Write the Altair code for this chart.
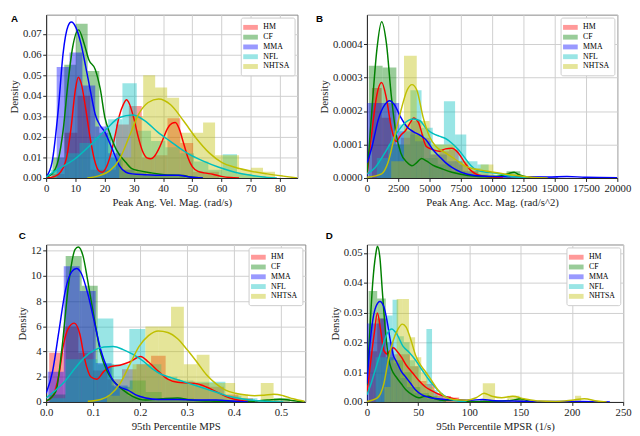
import altair as alt
import pandas as pd

SERIES = ["HM", "CF", "MMA", "NFL", "NHTSA"]
COLORS = ["#ff0000", "#008000", "#0000ff", "#00bfbf", "#bfbf00"]
SERIF = "Liberation Serif"

# ---------------- Panel A : Peak Ang. Vel. Mag. (rad/s) ----------------
# histogram: (first bin edge, bin width) and densities
A_HM_bins = (1.9, 4.4)
A_HM_h = [0.002, 0.022, 0.040, 0.004, 0.004, 0.026, 0.035, 0.010, 0.011, 0.029, 0.017, 0.003, 0.003]
A_CF_bins = (2.2, 4.0)
A_CF_h = [0.010, 0.055, 0.075, 0.052, 0.022, 0.010, 0.004, 0.003, 0.002, 0.001, 0.001, 0.001]
A_MMA_bins = (3.6, 4.4)
A_MMA_h = [0.054, 0.061, 0.045, 0.025, 0.012, 0.004, 0.002, 0.001, 0.001, 0.001]
A_NFL_bins = (1.6, 4.9)
A_NFL_h = [0.004, 0.012, 0.017, 0.020, 0.0286, 0.046, 0.023, 0.018, 0.015, 0.012, 0.008, 0.004, 0.0115, 0.002, 0.001]
A_NHTSA_bins = (25.0, 4.1)
A_NHTSA_h = [0.010, 0.030, 0.050, 0.044, 0.039, 0.022, 0.022, 0.027, 0.011, 0.011, 0.004, 0.005, 0.003]
# KDE curves: (x, density)
A_HM_kde = [(0, 0), (3, 0.0008), (5, 0.003), (7, 0.010), (8.5, 0.024), (10, 0.043), (11, 0.049), (12, 0.046),
            (13.5, 0.034), (15, 0.020), (16.5, 0.009), (18, 0.0035), (19.2, 0.0028), (20.5, 0.005), (22, 0.011),
            (23.5, 0.020), (25, 0.030), (26.5, 0.036), (27.5, 0.038), (28.5, 0.036), (30, 0.029), (31.5, 0.020),
            (33, 0.013), (34.5, 0.0098), (35.8, 0.0094), (37, 0.0105), (38.5, 0.014), (40, 0.019), (41.5, 0.024),
            (43, 0.0265), (44.2, 0.027), (45.5, 0.024), (47, 0.017), (48.5, 0.010), (50, 0.0055), (52, 0.0032),
            (54, 0.0025), (57, 0.0018), (60, 0.0008), (63, 0.0002), (66, 0)]
A_CF_kde = [(0, 0.0005), (2, 0.002), (4.2, 0.009), (5.8, 0.023), (7.5, 0.0466), (9.1, 0.0638), (11.1, 0.072),
            (13, 0.0653), (14.6, 0.0575), (16.8, 0.0528), (18.5, 0.0434), (20.1, 0.0294), (21.8, 0.0216), (24, 0.0138),
            (27.3, 0.0075), (29.5, 0.0044), (31.6, 0.0036), (36, 0.0025), (40.4, 0.0016), (44.8, 0.0014), (47, 0.0012),
            (49.2, 0.0005), (53.6, 0)]
A_MMA_kde = [(0, 0.0005), (2, 0.0075), (4.2, 0.034), (5.8, 0.0606), (7.5, 0.0739), (8.6, 0.0758), (10.2, 0.0731),
             (11.9, 0.0653), (13.5, 0.0544), (15.2, 0.0419), (16.8, 0.0309), (18.5, 0.0255), (20.1, 0.0223),
             (21.8, 0.0169), (23.4, 0.0114), (25.1, 0.0059), (27.3, 0.0028), (29.5, 0.002), (33.8, 0.0016),
             (40.4, 0.0013), (45.4, 0.0013), (49.2, 0.0005), (53.6, 0)]
A_NFL_kde = [(0, 0.0005), (4.2, 0.0044), (9.7, 0.0091), (15.2, 0.0161), (20.7, 0.0239), (25.1, 0.0294), (29.5, 0.0306),
             (33.8, 0.0278), (38.2, 0.0223), (42.6, 0.0177), (48.1, 0.0122), (53.6, 0.0083), (59.1, 0.0052),
             (64.6, 0.0028), (70.1, 0.0013), (75.6, 0.0003), (78.9, 0)]
A_NHTSA_kde = [(14.1, 0), (18.5, 0.0013), (21.8, 0.0036), (25.1, 0.0091), (28.4, 0.02), (31.6, 0.0309), (34.9, 0.0367),
               (38.5, 0.0384), (42.6, 0.0356), (47, 0.0278), (51.4, 0.0192), (55.8, 0.0122), (60.2, 0.0075),
               (64.6, 0.0052), (70.1, 0.0033), (75.6, 0.002), (81.1, 0.0009), (86, 0)]
A_xticks = [0, 10, 20, 30, 40, 50, 60, 70, 80]
A_yticks = [0.00, 0.01, 0.02, 0.03, 0.04, 0.05, 0.06, 0.07]

# ---------------- Panel B : Peak Ang. Acc. Mag. (rad/s^2) ----------------
B_HM_bins = (400, 770)
B_HM_h = [0.000269, 0.00018, 0.00010, 0.00012, 0.00017, 0.00012, 0.00007, 0.00008, 0.000085, 0.00004, 0.00002, 0.00001]
B_CF_bins = (150, 1100)
B_CF_h = [0.000335, 0.00033, 0.00010, 0.00013, 0.00006, 0.00004, 0.00002, 0.00001, 0.000005, 0.0, 0.00002, 0.000005]
B_MMA_bins = (30, 1270)
B_MMA_h = [0.000224, 0.000224, 0.00014, 0.00011, 0.00007, 0.00005, 0.00002, 0.00001, 0.000005, 0, 0, 0.000003]
B_NFL_bins = (790, 893)
B_NFL_h = [0.00006, 0.0001, 0.00016, 0.000262, 0.00015, 0.00010, 0.000229, 0.00013, 0.00005, 0.00004, 0.00001, 0.00001]
B_NHTSA_bins = (1939, 1020)
B_NHTSA_h = [0.00005, 0.000365, 0.00017, 0.0001, 0.0001, 0.00005, 0.00003, 0.00004, 0.00001, 0.00001, 0.000005]
B_HM_kde = [(25, 0.000013), (408, 0.000142), (791, 0.000248), (1173, 0.000285), (1556, 0.000238), (1939, 0.000152),
            (2321, 0.000109), (2704, 0.000128), (3087, 0.000142), (3469, 0.000166), (3724, 0.000179), (4107, 0.000166),
            (4745, 0.000094), (5255, 0.000085), (5765, 0.00008), (6276, 0.000087), (6786, 0.000089), (7296, 0.000075),
            (7806, 0.000046), (8316, 0.000022), (8827, 0.00001), (9847, 0.000003), (10867, 0)]
B_CF_kde = [(25, 0.000017), (408, 0.00021), (791, 0.000383), (1173, 0.000467), (1556, 0.000402), (1939, 0.000248),
            (2321, 0.000133), (2704, 0.000075), (3214, 0.000046), (3597, 0.0000365), (3980, 0.000046), (4362, 0.000058),
            (4745, 0.000051), (5255, 0.0000385), (6020, 0.000027), (6786, 0.000017), (8061, 0.0000077),
            (9847, 0.0000038), (10867, 0.0000077), (11378, 0.0000144), (11760, 0.000017), (12143, 0.0000096),
            (12908, 0.000002), (13929, 0)]
B_MMA_kde = [(25, 0.000046), (408, 0.000094), (918, 0.000176), (1429, 0.000219), (1811, 0.000231), (2194, 0.000219),
             (2704, 0.000181), (3214, 0.000152), (3724, 0.000138), (4235, 0.000128), (4745, 0.000113), (5255, 0.000085),
             (5765, 0.000065), (6276, 0.000046), (6786, 0.000032), (7551, 0.000017), (8571, 0.0000077),
             (9847, 0.0000048), (11888, 0.0000038), (14439, 0.0000029), (15969, 0.0000048), (17500, 0.000002),
             (20000, 0.000001)]
B_NFL_kde = [(25, 0.0000125), (663, 0.0000317), (1429, 0.000075), (2194, 0.000123), (2959, 0.000162), (3724, 0.000176),
             (4235, 0.000171), (4745, 0.000147), (5255, 0.000133), (5765, 0.000125), (6276, 0.000118), (6786, 0.000104),
             (7296, 0.000085), (7806, 0.000061), (8316, 0.0000365), (8827, 0.000022), (9592, 0.000017),
             (10357, 0.0000144), (11122, 0.0000077), (11888, 0.0000029), (12908, 0)]
B_NHTSA_kde = [(25, 0.000002), (1173, 0.0000125), (1684, 0.000046), (2194, 0.000123), (2704, 0.0002), (3214, 0.000263),
               (3597, 0.000279), (3980, 0.000263), (4490, 0.000181), (5000, 0.000123), (5510, 0.000094),
               (6276, 0.000075), (7041, 0.000056), (7806, 0.0000365), (8571, 0.000027), (9337, 0.000022),
               (10102, 0.000017), (10867, 0.0000125), (11888, 0.0000077), (13163, 0.000002), (14439, 0)]
B_xticks = [0, 2500, 5000, 7500, 10000, 12500, 15000, 17500, 20000]
B_yticks = [0.0, 0.0001, 0.0002, 0.0003, 0.0004]

# ---------------- Panel C : 95th Percentile MPS ----------------
C_HM_bins = (0.0065, 0.031)
C_HM_h = [3.9, 6.0, 3.9, 2.5, 1.8, 2.6, 3.0, 3.66, 1.8, 1.6, 1.5, 1.2, 0.6, 0.3]
C_CF_bins = (0.0075, 0.0341)
C_CF_h = [0.6, 11.58, 9.23, 3.0, 1.2, 1.7, 0.8, 0.3, 0.3, 0.2, 0, 0, 0, 0, 0.3]
C_MMA_bins = (0.0035, 0.034)
C_MMA_h = [2.4, 10.77, 8.8, 3.1, 1.3, 0.5, 0.3, 0.15, 0.2, 0.15, 0.2, 0.1]
C_NFL_bins = (0.0067, 0.0341)
C_NFL_h = [0.3, 3.4, 3.4, 6.63, 3.0, 5.8, 3.0, 2.0, 1.7, 1.6, 1.6, 0.5, 0.3]
C_NHTSA_bins = (0.1295, 0.0273)
C_NHTSA_h = [0.5, 1.0, 3.0, 6.0, 6.0, 7.55, 3.0, 3.75, 1.5, 1.5, 0.6, 0.0, 1.5]
C_HM_kde = [(0, 0.07), (0.0137, 0.45), (0.0273, 2.18), (0.0375, 4.65), (0.0478, 5.89), (0.06, 6.26), (0.0717, 5.4),
            (0.0819, 3.42), (0.0956, 1.98), (0.108, 1.81), (0.123, 2.43), (0.1365, 2.8), (0.157, 2.92), (0.1775, 3.17),
            (0.201, 3.61), (0.218, 3.17), (0.239, 2.43), (0.259, 1.81), (0.28, 1.56), (0.30, 1.51), (0.321, 1.44),
            (0.341, 1.19), (0.362, 0.82), (0.382, 0.45), (0.403, 0.2), (0.43, 0.05), (0.45, 0)]
C_CF_kde = [(0, 0.07), (0.0205, 0.82), (0.0341, 4.4), (0.0478, 9.36), (0.0614, 12.1), (0.0683, 12.3), (0.0785, 11.6),
            (0.0887, 9.6), (0.1024, 6.63), (0.116, 3.91), (0.13, 2.43), (0.143, 1.68), (0.164, 0.94), (0.184, 0.45),
            (0.212, 0.15), (0.246, 0.25), (0.28, 0.32), (0.307, 0.15), (0.348, 0.07), (0.416, 0.02), (0.471, 0.15),
            (0.498, 0.22), (0.532, 0.07), (0.551, 0)]
C_MMA_kde = [(0, 0.69), (0.0137, 2.43), (0.0273, 5.64), (0.041, 8.86), (0.0546, 10.35), (0.0648, 10.6), (0.075, 10.2),
             (0.0887, 8.6), (0.1024, 6.4), (0.116, 4.16), (0.13, 2.67), (0.143, 1.68), (0.157, 1.19), (0.174, 0.94),
             (0.191, 0.57), (0.212, 0.32), (0.239, 0.2), (0.28, 0.2), (0.321, 0.15), (0.362, 0.15), (0.403, 0.05),
             (0.43, 0)]
C_NFL_kde = [(0, 0.32), (0.0205, 0.94), (0.041, 1.68), (0.0614, 2.67), (0.0819, 3.54), (0.1024, 4.11), (0.123, 4.36),
             (0.143, 4.41), (0.164, 4.16), (0.184, 3.79), (0.205, 3.29), (0.225, 2.67), (0.246, 2.18), (0.266, 1.93),
             (0.287, 1.68), (0.307, 1.44), (0.328, 1.19), (0.348, 0.94), (0.369, 0.69), (0.389, 0.45), (0.416, 0.25),
             (0.45, 0.1), (0.485, 0.02), (0.505, 0)]
C_NHTSA_kde = [(0.0887, 0.05), (0.116, 0.2), (0.1365, 0.57), (0.157, 1.44), (0.1775, 2.92), (0.198, 4.41),
               (0.218, 5.27), (0.239, 5.64), (0.259, 5.52), (0.28, 5.02), (0.30, 4.16), (0.321, 3.17), (0.341, 2.18),
               (0.362, 1.44), (0.382, 0.94), (0.403, 0.69), (0.423, 0.57), (0.444, 0.5), (0.464, 0.54), (0.485, 0.62),
               (0.505, 0.5), (0.526, 0.25), (0.55, 0.05)]
C_xticks = [0.0, 0.1, 0.2, 0.3, 0.4, 0.5]
C_yticks = [0, 2, 4, 6, 8, 10, 12]

# ---------------- Panel D : 95th Percentile MPSR (1/s) ----------------
D_HM_bins = (2, 8)
D_HM_h = [0.017, 0.028, 0.017, 0.016, 0.016, 0.012, 0.007, 0.006, 0.003, 0.002, 0.0015]
D_CF_bins = (1.6, 8.4)
D_CF_h = [0.0372, 0.0347, 0.015, 0.014, 0.010, 0.005, 0.003, 0.002, 0.001, 0, 0, 0, 0, 0, 0, 0, 0, 0.001]
D_MMA_bins = (0, 6.5)
D_MMA_h = [0.0263, 0.0263, 0.028, 0.020, 0.013, 0.008, 0.005, 0.003, 0.002, 0.001, 0.0008, 0, 0, 0, 0, 0, 0, 0.0007]
D_NFL_bins = (8.5, 5.5)
D_NFL_h = [0.015, 0.015, 0.029, 0.0343, 0.022, 0.02, 0.014, 0.012, 0.006, 0.0245, 0.004, 0.002]
D_NHTSA_bins = (17, 6)
D_NHTSA_h = [0.005, 0.014, 0.0345, 0.0345, 0.0217, 0.015, 0.010, 0.005, 0.002, 0, 0, 0, 0, 0, 0, 0, 0.0063, 0.0063,
             0, 0, 0.0021, 0.0021, 0.001, 0, 0, 0, 0, 0, 0, 0, 0, 0.0021]
D_HM_kde = [(0, 0.0029), (4.0, 0.0145), (7.1, 0.0229), (10.2, 0.0298), (13.4, 0.024), (16.5, 0.0172), (19.6, 0.0161),
            (22.7, 0.0172), (25.8, 0.0182), (28.9, 0.0172), (33.5, 0.0151), (38.2, 0.0124), (44.4, 0.0098),
            (50.6, 0.0072), (56.8, 0.0051), (63.0, 0.0038), (69.3, 0.0027), (75.5, 0.0019), (84.8, 0.0011),
            (97.2, 0.0004), (103.4, 0.0002), (115.8, 0)]
D_CF_kde = [(0, 0.0056), (2.5, 0.0219), (5.6, 0.0398), (8.7, 0.0498), (10.2, 0.0522), (12.7, 0.0482), (14.9, 0.0377),
            (18.0, 0.024), (21.1, 0.0145), (24.2, 0.0108), (28.9, 0.0082), (33.5, 0.0061), (38.2, 0.004),
            (44.4, 0.0024), (50.6, 0.0014), (55.3, 0.0018), (59.9, 0.0019), (66.1, 0.0011), (75.5, 0.0005),
            (91.0, 0.0005), (100.3, 0.0002), (122, 0.0002), (140.7, 0.0005), (150, 0.0011), (159.3, 0.0002),
            (168.6, 0)]
D_MMA_kde = [(0, 0.0061), (2.5, 0.0177), (5.6, 0.0272), (8.7, 0.0319), (12.7, 0.0337), (16.5, 0.0319), (19.6, 0.0272),
             (22.7, 0.0208), (25.8, 0.0156), (28.9, 0.0135), (33.5, 0.0103), (38.2, 0.0082), (42.9, 0.0061),
             (47.5, 0.004), (53.7, 0.0024), (59.9, 0.0016), (69.3, 0.0011), (84.8, 0.0007), (100.3, 0.0006),
             (112.7, 0.0008), (122, 0.0005), (140.7, 0.0003), (168.6, 0.0002), (209, 0.0002), (227.6, 0.0001),
             (237, 0)]
D_NFL_kde = [(0, 0.0024), (4.0, 0.0061), (8.7, 0.0114), (13.4, 0.0166), (19.6, 0.0229), (24.2, 0.0245), (28.9, 0.0229),
             (35.1, 0.0187), (41.3, 0.0166), (47.5, 0.014), (53.7, 0.0108), (59.9, 0.0077), (66.1, 0.0051),
             (72.4, 0.0029), (78.6, 0.0014), (84.8, 0.0006), (97.2, 0)]
D_NHTSA_kde = [(0, 0.0002), (10.2, 0.0014), (16.5, 0.0061), (21.1, 0.0145), (25.8, 0.0208), (30.4, 0.0245),
               (34.5, 0.0261), (38.2, 0.0251), (42.9, 0.0208), (47.5, 0.0156), (52.2, 0.0124), (56.8, 0.0103),
               (63.0, 0.0072), (69.3, 0.004), (75.5, 0.0019), (84.8, 0.0008), (97.2, 0.0006), (106.5, 0.0014),
               (114.3, 0.0029), (122, 0.0019), (131.4, 0.0014), (142.2, 0.0019), (153.1, 0.0011), (168.6, 0.0003),
               (184.2, 0.0002), (199.7, 0.0006), (212.1, 0.0011), (224.5, 0.0003), (233.9, 0)]
D_xticks = [0, 50, 100, 150, 200, 250]
D_yticks = [0.00, 0.01, 0.02, 0.03, 0.04, 0.05]


def hist_frame(specs):
    rows = []
    for name, (start, width), heights in specs:
        for i, h in enumerate(heights):
            if h > 0:
                rows.append({"series": name, "x0": start + i * width, "x1": start + (i + 1) * width,
                             "y": h, "base": 0.0})
    return pd.DataFrame(rows)


def kde_frame(specs):
    rows = []
    for name, pts in specs:
        for k, (x, y) in enumerate(pts):
            rows.append({"series": name, "x0": x, "y": y, "k": k})
    return pd.DataFrame(rows)


def panel(hspecs, kspecs, xdom, ydom, xticks, yticks, xfmt, yfmt, xtitle, letter, ldx, ldy, w, h):
    hdf = hist_frame(hspecs)
    kdf = kde_frame(kspecs)
    xs = alt.Scale(domain=xdom, nice=False, zero=False)
    ys = alt.Scale(domain=ydom, nice=False, zero=False)
    cscale = alt.Scale(domain=SERIES, range=COLORS)
    xaxis = alt.Axis(values=xticks, format=xfmt, title=xtitle, labelOverlap=False, labelFlush=False,
                     tickCount=len(xticks))
    yaxis = alt.Axis(values=yticks, format=yfmt, title="Density", labelOverlap=False, labelFlush=False,
                     tickCount=len(yticks))
    legend = alt.Legend(
        orient="top-right", title=None, offset=3, padding=5, fillColor="white",
        strokeColor="#cccccc", cornerRadius=2,
        symbolType="M-1.5,-0.5H1.5V0.5H-1.5Z", symbolSize=100, symbolOpacity=0.4,
        symbolStrokeWidth=0, labelFont=SERIF, labelFontSize=8, labelOffset=8,
        rowPadding=1, labelColor="black",
    )
    base_x = alt.X("x0:Q", scale=xs, axis=xaxis)
    base_y = alt.Y("y:Q", scale=ys, axis=yaxis)
    bars = alt.Chart(hdf).mark_rect(opacity=0.4, clip=True).encode(
        x=base_x,
        x2="x1:Q",
        y=base_y,
        y2="base:Q",
        color=alt.Color("series:N", scale=cscale, sort=SERIES, legend=legend),
    )
    lines = alt.Chart(kdf).mark_line(strokeWidth=1.5, clip=True, interpolate="monotone").encode(
        x=base_x,
        y=base_y,
        order="k:Q",
        color=alt.Color("series:N", scale=cscale, sort=SERIES, legend=None),
    )
    lab = alt.Chart(alt.Data(values=[{"t": letter}])).mark_text(
        font="Liberation Sans", fontWeight="bold", fontSize=10, align="left", baseline="alphabetic",
        color="black",
    ).encode(x=alt.value(ldx), y=alt.value(ldy), text="t:N")
    return alt.layer(bars, lines, lab).properties(width=w, height=h)


pA = panel(
    [("HM", A_HM_bins, A_HM_h), ("CF", A_CF_bins, A_CF_h), ("MMA", A_MMA_bins, A_MMA_h),
     ("NFL", A_NFL_bins, A_NFL_h), ("NHTSA", A_NHTSA_bins, A_NHTSA_h)],
    [("HM", A_HM_kde), ("CF", A_CF_kde), ("MMA", A_MMA_kde), ("NFL", A_NFL_kde), ("NHTSA", A_NHTSA_kde)],
    [0, 86], [0, 0.0794], A_xticks, A_yticks, "d", ".2f", "Peak Ang. Vel. Mag. (rad/s)", "A", -36, 7, 257, 167)
pB = panel(
    [("HM", B_HM_bins, B_HM_h), ("CF", B_CF_bins, B_CF_h), ("MMA", B_MMA_bins, B_MMA_h),
     ("NFL", B_NFL_bins, B_NFL_h), ("NHTSA", B_NHTSA_bins, B_NHTSA_h)],
    [("HM", B_HM_kde), ("CF", B_CF_kde), ("MMA", B_MMA_kde), ("NFL", B_NFL_kde), ("NHTSA", B_NHTSA_kde)],
    [0, 20000], [0, 0.000488], B_xticks, B_yticks, "d", ".4f", "Peak Ang. Acc. Mag. (rad/s^2)", "B", -52, 7, 256, 167)
pC = panel(
    [("HM", C_HM_bins, C_HM_h), ("CF", C_CF_bins, C_CF_h), ("MMA", C_MMA_bins, C_MMA_h),
     ("NFL", C_NFL_bins, C_NFL_h), ("NHTSA", C_NHTSA_bins, C_NHTSA_h)],
    [("HM", C_HM_kde), ("CF", C_CF_kde), ("MMA", C_MMA_kde), ("NFL", C_NFL_kde), ("NHTSA", C_NHTSA_kde)],
    [0, 0.552], [0, 12.5], C_xticks, C_yticks, ".1f", "d", "95th Percentile MPS", "C", -28, -6, 265, 161)
pD = panel(
    [("HM", D_HM_bins, D_HM_h), ("CF", D_CF_bins, D_CF_h), ("MMA", D_MMA_bins, D_MMA_h),
     ("NFL", D_NFL_bins, D_NFL_h), ("NHTSA", D_NHTSA_bins, D_NHTSA_h)],
    [("HM", D_HM_kde), ("CF", D_CF_kde), ("MMA", D_MMA_kde), ("NFL", D_NFL_kde), ("NHTSA", D_NHTSA_kde)],
    [0, 250], [0, 0.0528], D_xticks, D_yticks, "d", ".2f", "95th Percentile MPSR (1/s)", "D", -42, -6, 262, 161)

chart = alt.concat(pA, pB, pC, pD, columns=2, spacing={"row": 22, "column": 9}).resolve_scale(
    color="independent", x="independent", y="independent"
).resolve_legend(color="independent").properties(
    padding={"left": 0, "top": 0, "right": 0, "bottom": 0}
).configure_axis(
    labelFont=SERIF, titleFont=SERIF, labelFontSize=11, titleFontSize=11, titleFontWeight="normal",
    labelColor="#222222", titleColor="#222222", tickColor="#222222", domainColor="#222222",
    gridColor="#cfcfcf", gridWidth=1, tickSize=3.5, labelPadding=1.5, titlePadding=3,
).configure_view(stroke="#888888", strokeWidth=1)

chart.save("out.html", embed_options={"renderer": "svg", "actions": False})
